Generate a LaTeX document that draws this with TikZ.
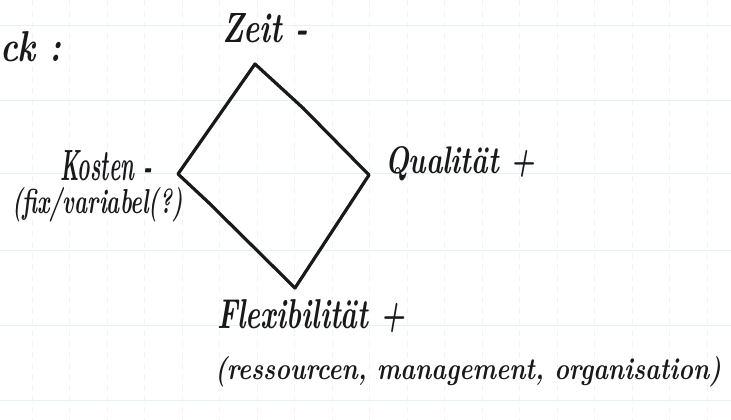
\documentclass[tikz,border=0pt]{standalone}
\usepackage{graphicx}
\definecolor{inkc}{RGB}{25,25,28}
\definecolor{gridh}{RGB}{230,240,246}
\definecolor{gridv}{RGB}{238,245,249}
\newcommand{\hw}[3]{\resizebox{#1}{#2}{\bfseries\itshape #3}}
\begin{document}
\begin{tikzpicture}[x=1pt,y=-1pt,
  ink/.style={draw=inkc, line width=3.2pt, line join=round, line cap=round},
  lbl/.style={inner sep=0pt, outer sep=0pt, text=inkc, anchor=base west},
  gline/.style={draw=gridh, line width=0.8pt},
  vline/.style={draw=gridv, line width=0.8pt, dash pattern=on 6pt off 5pt}]
\useasboundingbox (0,0) rectangle (731,420);
\fill[white] (0,0) rectangle (731,420);
% faint graph paper
\foreach \yy in {25,100,173,250,325,400} \draw[gline] (0,\yy) -- (731,\yy);
\foreach \xx in {32,69.5,107,144.5,182,219.5,257,294.5,332,369.5,407,444.5,482,519.5,557,594.5,632,669.5,707}
  \draw[vline] (\xx,0) -- (\xx,420);
% diamond
\coordinate (T) at (255,64);
\coordinate (R) at (369,175);
\coordinate (B) at (295,288);
\coordinate (L) at (178,174);
\coordinate (k1) at (303,108);
\coordinate (k2) at (208,202);
\draw[ink] (T) -- (k1) -- (R) -- (B) -- (k2) -- (L) -- cycle;
% labels
\node[lbl] (ck) at (0,62) {\hw{62pt}{30pt}{ck :}};
\node[lbl] (zeit) at (222,43) {\hw{86pt}{29pt}{Zeit -}};
\node[lbl] (kosten) at (60,180) {\hw{92pt}{30pt}{Kosten -}};
\node[lbl] (fix) at (12,213) {\hw{171pt}{26pt}{(fix/variabel(?)}};
\node[lbl] (qual) at (385,173) {\hw{150pt}{27pt}{Qualit\"at +}};
\node[lbl] (flex) at (217,328) {\hw{188pt}{29pt}{Flexibilit\"at +}};
\node[lbl] (res) at (215,379) {\hw{506pt}{23pt}{(ressourcen, management, organisation)}};
\end{tikzpicture}
\end{document}
